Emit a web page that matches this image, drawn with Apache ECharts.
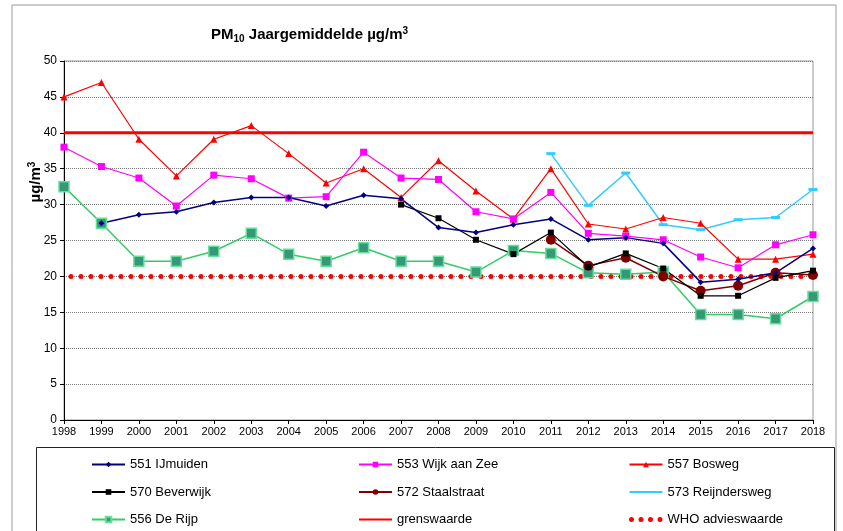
<!DOCTYPE html>
<html>
<head>
<meta charset="utf-8">
<script src="https://cdn.jsdelivr.net/npm/echarts@6/dist/echarts.min.js"></script>
<style>
  html, body { margin: 0; padding: 0; background: #fff; }
  #chart { width: 843px; height: 531px; }
</style>
</head>
<body>
<div id="chart"></div>
<script>
const years = ['1998', '1999', '2000', '2001', '2002', '2003', '2004', '2005', '2006', '2007', '2008',
  '2009', '2010', '2011', '2012', '2013', '2014', '2015', '2016', '2017', '2018'];

// jaargemiddelden per station (null = geen meting)
const ijmuiden = [null, 27.4, 28.6, 29.0, 30.3, 31.0, 31.0, 29.8, 31.3, 30.8, 26.8,
  26.1, 27.2, 28.0, 25.1, 25.4, 24.6, 19.2, 19.6, 20.5, 23.9];
const wijkAanZee = [38.0, 35.3, 33.7, 29.8, 34.1, 33.6, 30.9, 31.1, 37.3, 33.7, 33.5,
  29.0, 28.0, 31.7, 26.0, 25.6, 25.1, 22.7, 21.2, 24.4, 25.8];
const bosweg = [45.0, 47.0, 39.1, 34.0, 39.1, 41.0, 37.1, 33.0, 35.0, 31.0, 36.1,
  31.9, 28.0, 35.0, 27.3, 26.6, 28.2, 27.4, 22.4, 22.4, 23.1];
const beverwijk = [null, null, null, null, null, null, null, null, null, 30.0, 28.1,
  25.1, 23.1, 26.1, 21.3, 23.2, 21.1, 17.3, 17.3, 19.8, 20.8];
const staalstraat = [null, null, null, null, null, null, null, null, null, null, null,
  null, null, 25.1, 21.5, 22.6, 20.0, 18.0, 18.7, 20.5, 20.2];
const reijndersweg = [null, null, null, null, null, null, null, null, null, null, null,
  null, null, 37.1, 29.9, 34.4, 27.2, 26.5, 27.9, 28.2, 32.1];
const deRijp = [32.5, 27.4, 22.1, 22.1, 23.5, 26.0, 23.1, 22.1, 24.0, 22.1, 22.1,
  20.6, 23.6, 23.2, 20.5, 20.3, 20.6, 14.7, 14.7, 14.1, 17.2];

const grenswaarde = 40;
const whoAdvies = 20;

const chart = echarts.init(document.getElementById('chart'));

const font = 'Liberation Sans, Arial, sans-serif';

const station = (name, data, color, symbol, size, width, extra) => Object.assign({
  name,
  type: 'line',
  data,
  symbol,
  symbolSize: size,
  showAllSymbol: true,
  connectNulls: false,
  lineStyle: { color, width },
  itemStyle: { color },
  emphasis: { disabled: true }
}, extra || {});

const legendBase = {
  orient: 'vertical',
  top: 458,
  height: 100,
  itemWidth: 33,
  itemHeight: 7,
  itemGap: 14.5,
  padding: 0,
  selectedMode: false,
  textStyle: { fontFamily: font, fontSize: 13, color: '#000', lineHeight: 7 }
};

const noMarker = { opacity: 0 };

const option = {
  animation: false,
  textStyle: { fontFamily: font },
  title: {
    left: 211,
    top: 26,
    padding: 0,
    text: '{a|PM}{sub|10}{a| Jaargemiddelde µg/m}{sup|3}',
    textStyle: {
      rich: {
        a: { fontFamily: font, fontSize: 15, fontWeight: 'bold', color: '#000', lineHeight: 18 },
        sub: { fontFamily: font, fontSize: 10, fontWeight: 'bold', color: '#000', lineHeight: 18, verticalAlign: 'bottom', padding: [6, 0, 0, 0] },
        sup: { fontFamily: font, fontSize: 10, fontWeight: 'bold', color: '#000', lineHeight: 18, verticalAlign: 'top', padding: [0, 0, 6, 0] }
      }
    }
  },
  grid: {
    left: 64,
    right: 30,
    top: 61,
    bottom: 111,
    show: true,
    borderColor: '#999',
    borderWidth: 1
  },
  graphic: [
    {
      type: 'rect',
      shape: { x: 12, y: 5, width: 824, height: 560 },
      style: { fill: null, stroke: '#999', lineWidth: 1 },
      silent: true
    },
    {
      type: 'rect',
      shape: { x: 36.5, y: 447.5, width: 798, height: 100 },
      style: { fill: null, stroke: '#222', lineWidth: 1 },
      silent: true
    },
    {
      type: 'text',
      x: 36,
      y: 182,
      rotation: Math.PI / 2,
      style: {
        text: '{a|µg/m}{sup|3}',
        align: 'center',
        verticalAlign: 'middle',
        rich: {
          a: { fontFamily: font, fontSize: 15, fontWeight: 'bold', fill: '#000', lineHeight: 18 },
          sup: { fontFamily: font, fontSize: 10, fontWeight: 'bold', fill: '#000', lineHeight: 18, verticalAlign: 'top', padding: [0, 0, 6, 0] }
        }
      },
      silent: true
    }
  ],
  legend: [
    Object.assign({ left: 91, data: ['551 IJmuiden', '570 Beverwijk', '556 De Rijp'] }, legendBase),
    Object.assign({ left: 358, data: ['553 Wijk aan Zee', '572 Staalstraat',
      { name: 'grenswaarde', itemStyle: noMarker }] }, legendBase),
    Object.assign({ left: 627, data: ['557 Bosweg',
      { name: '573 Reijndersweg', itemStyle: noMarker },
      { name: 'WHO advieswaarde', itemStyle: noMarker,
        lineStyle: { width: 5, type: [0, 9.5], cap: 'round', dashOffset: -2 } }] }, legendBase)
  ],
  xAxis: {
    type: 'category',
    data: years,
    boundaryGap: false,
    axisLine: { lineStyle: { color: '#000', width: 1 } },
    axisTick: { show: true, length: 4, lineStyle: { color: '#000' } },
    axisLabel: { interval: 0, fontSize: 11, color: '#000', margin: 6, fontFamily: font },
    splitLine: { show: false }
  },
  yAxis: {
    type: 'value',
    min: 0,
    max: 50,
    interval: 5,
    axisLine: { show: true, lineStyle: { color: '#000', width: 1 } },
    axisTick: { show: true, length: 4, lineStyle: { color: '#000' } },
    axisLabel: { fontSize: 12, color: '#000', margin: 7, fontFamily: font },
    splitLine: { lineStyle: { color: '#777', type: [1, 1], width: 1 } }
  },
  series: [
    {
      name: 'grenswaarde',
      type: 'line',
      data: years.map(() => grenswaarde),
      symbol: 'none',
      lineStyle: { color: '#ff0000', width: 3 },
      itemStyle: { color: '#ff0000' },
      emphasis: { disabled: true },
      z: 1
    },
    {
      name: 'WHO advieswaarde',
      type: 'line',
      data: years.map(() => whoAdvies),
      symbol: 'none',
      lineStyle: { color: '#ff0000', width: 5, type: [0, 10], cap: 'round', dashOffset: -7 },
      itemStyle: { color: '#ff0000' },
      emphasis: { disabled: true },
      z: 1
    },
    station('556 De Rijp', deRijp, '#33cc66', 'rect', 10, 1.5, {
      itemStyle: { color: '#339977', borderColor: '#66dd99', borderWidth: 1.5 },
      lineStyle: { color: '#33cc66', width: 1.5 }
    }),
    station('573 Reijndersweg', reijndersweg, '#33ccff', 'rect', [9, 3], 1.5),
    station('572 Staalstraat', staalstraat, '#800000', 'circle', 10, 1.5),
    station('570 Beverwijk', beverwijk, '#000000', 'rect', 6, 1.2),
    station('557 Bosweg', bosweg, '#ff0000', 'triangle', 7, 1.2),
    station('553 Wijk aan Zee', wijkAanZee, '#ff00ff', 'rect', 7, 1.2),
    station('551 IJmuiden', ijmuiden, '#000080', 'diamond', 6, 1.5)
  ]
};

chart.setOption(option);
window.addEventListener('resize', () => chart.resize());
</script>
</body>
</html>
